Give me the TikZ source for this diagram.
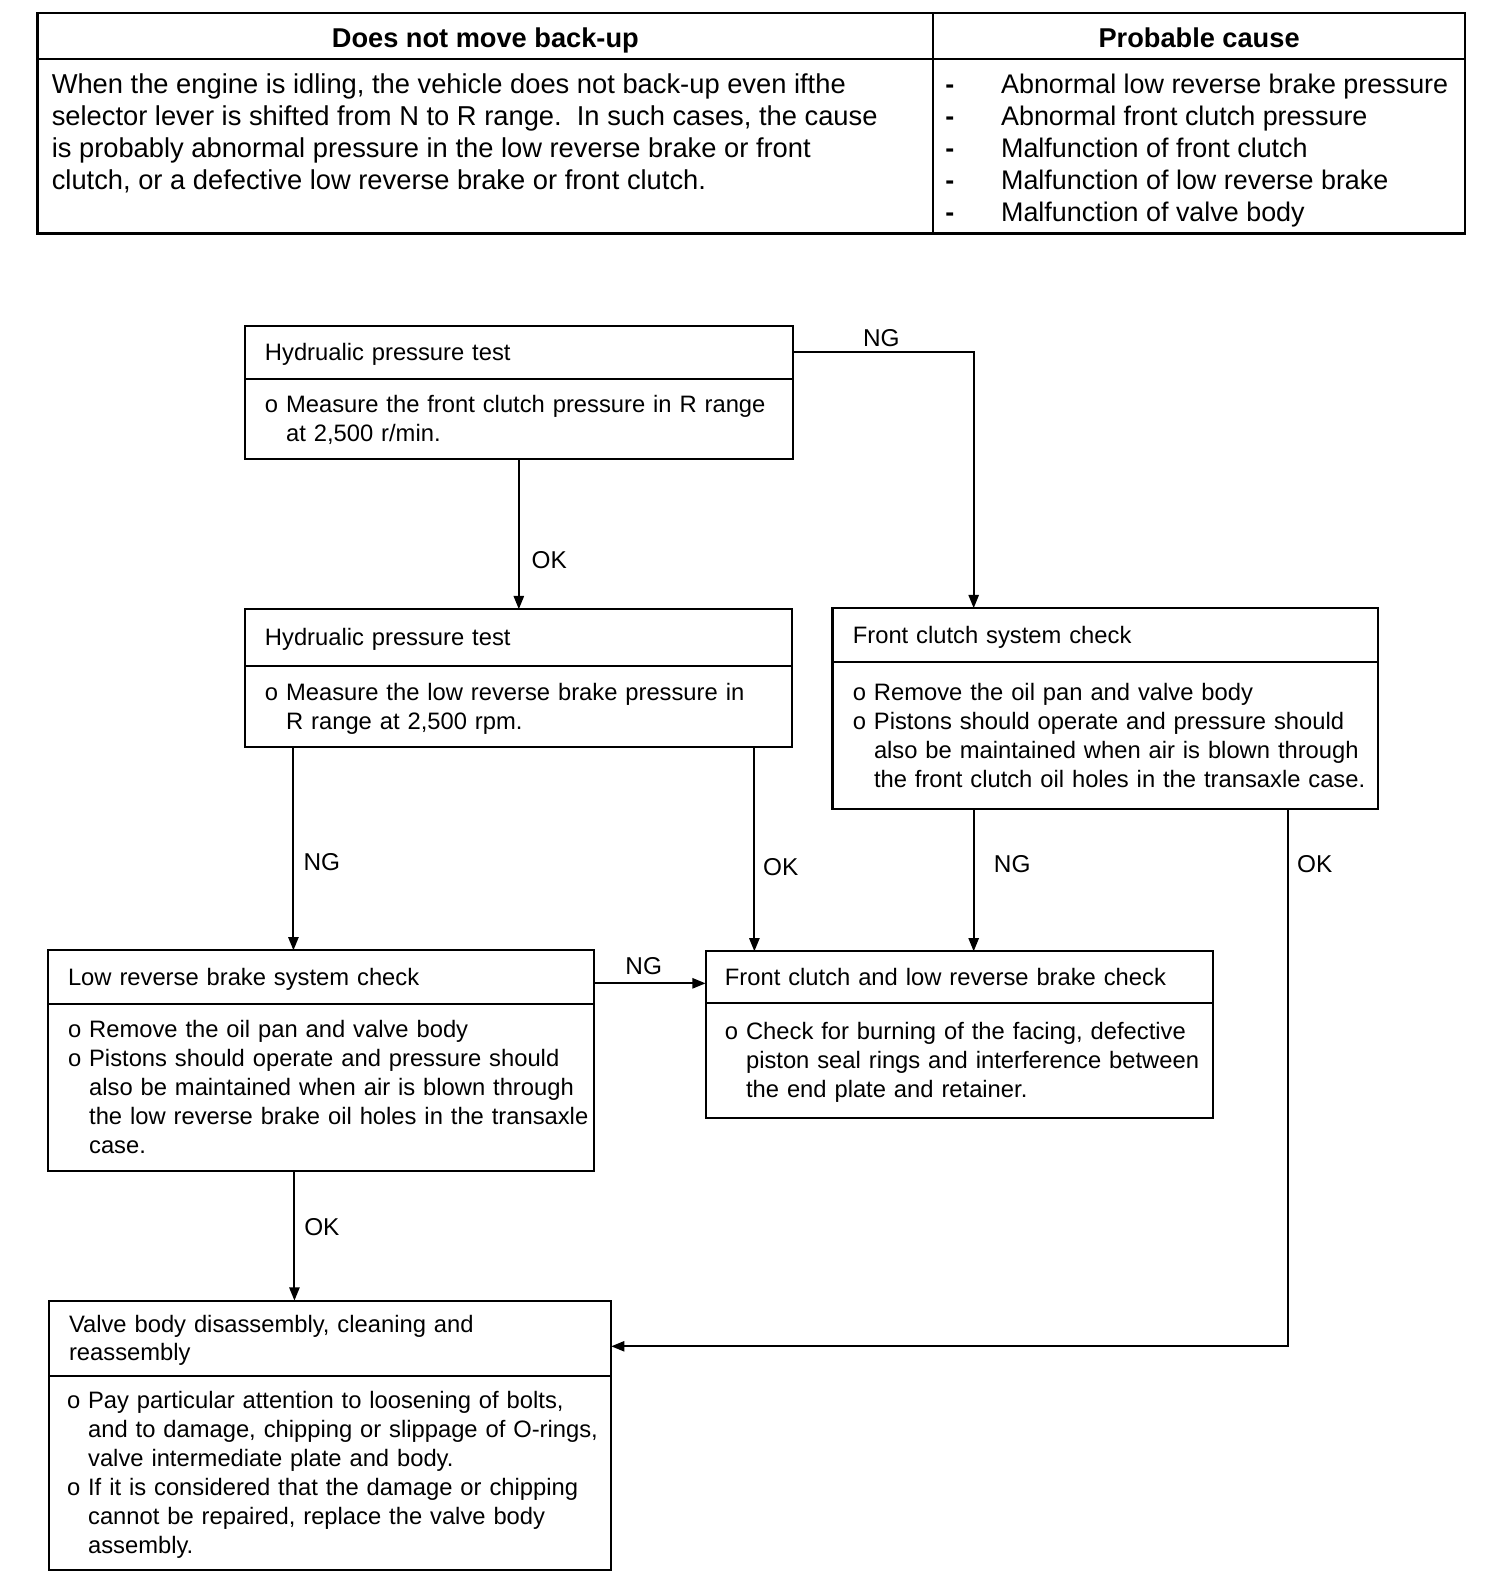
\documentclass[tikz,border=0pt]{standalone}
\usepackage{fontspec}
\setmainfont{Liberation Sans}
\usetikzlibrary{arrows.meta}
\newcommand{\ind}{\hphantom{o\ }}
\newcommand{\dsh}{\makebox[55pt][l]{\textbf{-}}}
\newcommand{\tb}[1]{\raisebox{0pt}[\dimexpr\height+5pt\relax][\depth]{\begin{tabular}{@{}l@{}}#1\end{tabular}}}
\begin{document}
\begin{tikzpicture}[x=1pt,y=-1pt,
  every node/.style={inner sep=0pt, outer sep=0pt},
  tabcell/.style={draw, line width=2.2pt, anchor=north west},
  tabhead/.style={tabcell, font=\fontsize{26.8}{31.5}\selectfont\bfseries, text height=22pt, text depth=0pt},
  tabtext/.style={anchor=base west, font=\fontsize{26.5}{31.5}\selectfont},
  part/.style={draw, line width=2.2pt, anchor=north west, inner xsep=20pt, inner ysep=0pt, align=left, font=\fontsize{23.4}{28.5}\selectfont},
  lbl/.style={font=\fontsize{24}{28.5}\selectfont},
  arr/.style={line width=2pt, -{Triangle[length=13pt,width=10pt]}}
]
\path[fill=white] (0,0) rectangle (1481,1568);
\useasboundingbox (0,0) rectangle (1481,1568);

% ---------------- table ----------------
\node[tabhead, minimum width=882pt, minimum height=45pt] (hdrL) at (37,13) {Does not move back-up};
\node[tabhead, minimum width=524pt, minimum height=45pt] (hdrR) at (919,13) {Probable cause};
\node[tabcell, minimum width=882pt, minimum height=172pt] (cellL) at (37,58) {};
\node[tabcell, minimum width=524pt, minimum height=172pt] (cellR) at (919,58) {};
\node[tabtext, font=\fontsize{26.9}{31.5}\selectfont] (symptom) at (51,92.5) {\begin{tabular}[t]{@{}l@{}}
When the engine is idling, the vehicle does not back-up even ifthe\\
selector lever is shifted from N to R range.\ \ In such cases, the cause\\
is probably abnormal pressure in the low reverse brake or front\\
clutch, or a defective low reverse brake or front clutch.
\end{tabular}};
\node[tabtext] (causes) at (931,92.5) {\begin{tabular}[t]{@{}l@{}}
\dsh Abnormal low reverse brake pressure\\
\dsh Abnormal front clutch pressure\\
\dsh Malfunction of front clutch\\
\dsh Malfunction of low reverse brake\\
\dsh Malfunction of valve body
\end{tabular}};

% ---------------- boxes ----------------
% A
\node[part, text width=500pt, minimum height=52pt] (A1) at (241,321) {\tb{Hydrualic pressure test}};
\node[part, text width=500pt, minimum height=79pt] (A2) at (A1.south west) {\tb{%
o Measure the front clutch pressure in R range\\
\ind at 2,500 r/min.}};
% B
\node[part, text width=499pt, minimum height=56pt] (B1) at (241,600) {\tb{Hydrualic pressure test}};
\node[part, text width=499pt, minimum height=80pt] (B2) at (B1.south west) {\tb{%
o Measure the low reverse brake pressure in\\
\ind R range at 2,500 rpm.}};
% C
\node[part, text width=497pt, minimum height=53pt] (C1) at (820,599) {\tb{Front clutch system check}};
\node[part, text width=497pt, minimum height=145pt] (C2) at (C1.south west) {\tb{%
o Remove the oil pan and valve body\\
o Pistons should operate and pressure should\\
\ind also be maintained when air is blown through\\
\ind the front clutch oil holes in the transaxle case.}};
% D
\node[part, text width=498pt, minimum height=53pt] (D1) at (47,936) {\tb{Low reverse brake system check}};
\node[part, text width=498pt, minimum height=164pt] (D2) at (D1.south west) {\tb{%
o Remove the oil pan and valve body\\
o Pistons should operate and pressure should\\
\ind also be maintained when air is blown through\\
\ind the low reverse brake oil holes in the transaxle\\
\ind case.}};
% E
\node[part, text width=462pt, minimum height=51pt, inner xsep=19pt] (E1) at (695,937) {\tb{Front clutch and low reverse brake check}};
\node[part, text width=462pt, minimum height=113pt, inner xsep=19pt] (E2) at (E1.south west) {\tb{%
o Check for burning of the facing, defective\\
\ind piston seal rings and interference between\\
\ind the end plate and retainer.}};
% F
\node[part, text width=514pt, minimum height=74pt] (F1) at (48,1281) {\tb{%
Valve body disassembly, cleaning and\\
reassembly}};
\node[part, text width=518pt, minimum height=191pt, inner xsep=18pt] (F2) at (F1.south west) {\tb{%
o Pay particular attention to loosening of bolts,\\
\ind and to damage, chipping or slippage of O-rings,\\
\ind valve intermediate plate and body.\\
o If it is considered that the damage or chipping\\
\ind cannot be repaired, replace the valve body\\
\ind assembly.}};

% ---------------- connectors ----------------
\draw[arr] (A2.south) -- (A2.south |- B1.north);
\draw[arr] (A1.east) -| ([xshift=139pt]C1.north west);
\draw[arr] ([xshift=48pt]B2.south west) -- ([xshift=48pt]B2.south west |- D1.north);
\draw[arr] ([xshift=502pt]B2.south west) -- ([xshift=502pt]B2.south west |- E1.north);
\draw[arr] ([xshift=139pt]C2.south west) -- ([xshift=139pt]C2.south west |- E1.north);
\draw[arr] ([xshift=449pt]C2.south west) |- ([yshift=-8pt]F1.east);
\draw[arr] ([yshift=-6pt]D1.east) -- ([yshift=-6pt]D1.east -| E1.west);
\draw[arr] ([xshift=243pt]D2.south west) -- ([xshift=243pt]D2.south west |- F1.north);

% ---------------- labels ----------------
\node[lbl] (l1) at (541,552) {OK};
\node[lbl] (l2) at (868,333) {NG};
\node[lbl] (l3) at (317,849) {NG};
\node[lbl] (l4) at (769,854) {OK};
\node[lbl] (l5) at (997,851) {NG};
\node[lbl] (l6) at (1295,851) {OK};
\node[lbl] (l7) at (634,952) {NG};
\node[lbl] (l8) at (317,1209) {OK};
\end{tikzpicture}
\end{document}
